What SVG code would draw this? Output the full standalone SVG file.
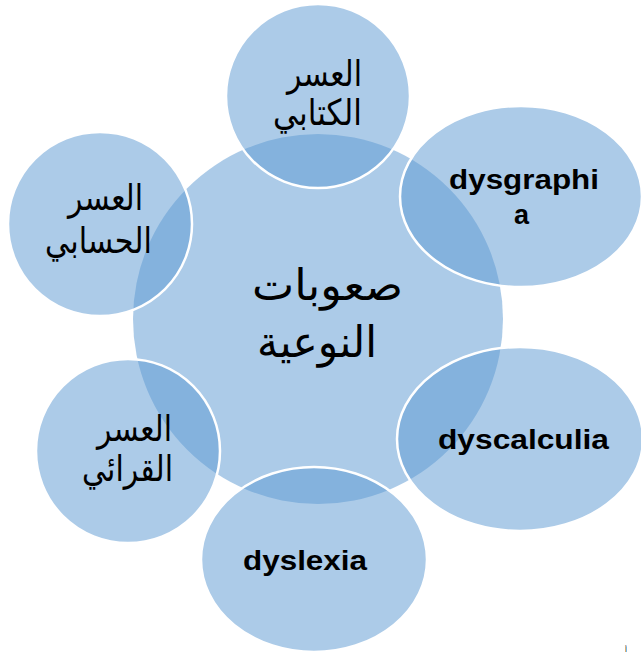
<svg xmlns="http://www.w3.org/2000/svg" width="641" height="654" viewBox="0 0 641 654">
  <style>
    .bubble { fill: #5f9bd3; fill-opacity: 0.52; }
    .sat { stroke: #ffffff; stroke-width: 2.5; }
    .ar { font-family: "DejaVu Sans", "Noto Sans", sans-serif; font-size: 36px; fill: #000000; text-anchor: middle; }
    .arc { font-size: 43px; }
    .en { font-family: "Liberation Sans", Arial, sans-serif; font-weight: bold; font-size: 27px; fill: #000000; text-anchor: middle; }
  </style>
  <rect width="641" height="654" fill="#ffffff"/>
  <g id="center">
    <circle class="bubble" cx="318" cy="319" r="185"/>
  </g>
  <g id="node-kitabi">
    <circle class="bubble sat" cx="318" cy="96" r="92"/>
  </g>
  <g id="node-dysgraphia">
    <ellipse class="bubble sat" cx="521" cy="196.5" rx="121" ry="90.5"/>
  </g>
  <g id="node-dyscalculia">
    <ellipse class="bubble sat" cx="520" cy="439" rx="123" ry="92"/>
  </g>
  <g id="node-dyslexia">
    <ellipse class="bubble sat" cx="314" cy="559.5" rx="113" ry="92.5"/>
  </g>
  <g id="node-qiraai">
    <circle class="bubble sat" cx="128" cy="451" r="92"/>
  </g>
  <g id="node-hisabi">
    <circle class="bubble sat" cx="100" cy="224" r="92"/>
  </g>
  <g id="connectors"></g>
  <g id="labels">
    <text class="ar arc" x="327.5" y="300" textLength="151" lengthAdjust="spacingAndGlyphs">صعوبات</text>
    <text class="ar arc" x="317" y="357" textLength="120" lengthAdjust="spacingAndGlyphs">النوعية</text>
    <text class="ar" x="324.5" y="86" textLength="75" lengthAdjust="spacingAndGlyphs">العسر</text>
    <text class="ar" x="317.5" y="125" textLength="89" lengthAdjust="spacingAndGlyphs">الكتابي</text>
    <text class="ar" x="105.5" y="210" textLength="75" lengthAdjust="spacingAndGlyphs">العسر</text>
    <text class="ar" x="98.5" y="253" textLength="107" lengthAdjust="spacingAndGlyphs">الحسابي</text>
    <text class="ar" x="134.5" y="441" textLength="75" lengthAdjust="spacingAndGlyphs">العسر</text>
    <text class="ar" x="127.5" y="481" textLength="91" lengthAdjust="spacingAndGlyphs">القرائي</text>
    <text class="en" x="524" y="189" textLength="150" lengthAdjust="spacingAndGlyphs">dysgraphi</text>
    <text class="en" x="521.5" y="224">a</text>
    <text class="en" x="523.5" y="449" textLength="171" lengthAdjust="spacingAndGlyphs">dyscalculia</text>
    <text class="en" x="305" y="570" textLength="124" lengthAdjust="spacingAndGlyphs">dyslexia</text>
    <text x="626" y="652" font-family="DejaVu Sans, sans-serif" font-size="7" text-anchor="middle" fill="#000000">أ</text>
  </g>
</svg>
